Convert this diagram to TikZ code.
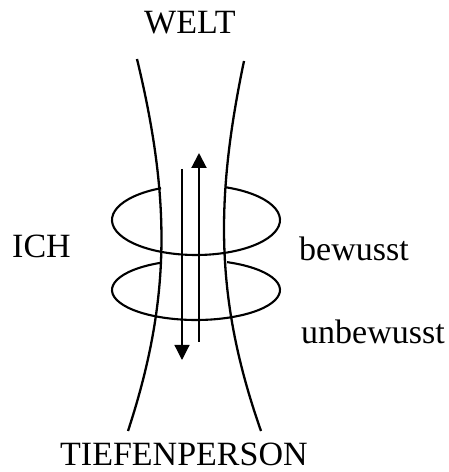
\documentclass[tikz,border=0pt]{standalone}
\usepackage{fontspec}
\setmainfont{Liberation Serif}
\usetikzlibrary{arrows.meta}
\begin{document}
\begin{tikzpicture}[x=1pt,y=1pt,
  lbl/.style={anchor=base west,inner sep=0pt,font=\fontsize{34}{34}\selectfont},
  tube/.style={line width=2.3pt},
  ring/.style={line width=2.1pt},
  flow/.style={-{Triangle[length=15pt,width=15pt]}}]
\useasboundingbox (0,0) rectangle (449,472);
% labels
\node[lbl] (welt) at (144,438) {WELT};
\node[lbl] (ich) at (12,214) {ICH};
\node[lbl] (bew) at (299,211) {bewusst};
\node[lbl] (unbew) at (301,128) {unbewusst};
\node[lbl] (tief) at (60,6) {TIEFENPERSON};
% tube
\draw[tube] (137,413) .. controls (171,272) and (171,172) .. (128,41);
\draw[tube] (244,411) .. controls (215,272) and (215,172) .. (261,41);
% rings
\draw[ring] ({196+84*cos(114.6)},{252+35*sin(114.6)}) arc[start angle=114.6,end angle=429,x radius=84,y radius=35];
\draw[ring] ({196+84*cos(114.6)},{182+30*sin(114.6)}) arc[start angle=114.6,end angle=428.3,x radius=84,y radius=30];
% arrows
\coordinate (upS) at (199,130);
\coordinate (upE) at (199,319);
\coordinate (dnS) at (182,303);
\coordinate (dnE) at (182,112);
\draw[flow,line width=2pt] (upS) -- (upE);
\draw[flow,line width=1.2pt] (dnS) -- (dnE);
\end{tikzpicture}
\end{document}
